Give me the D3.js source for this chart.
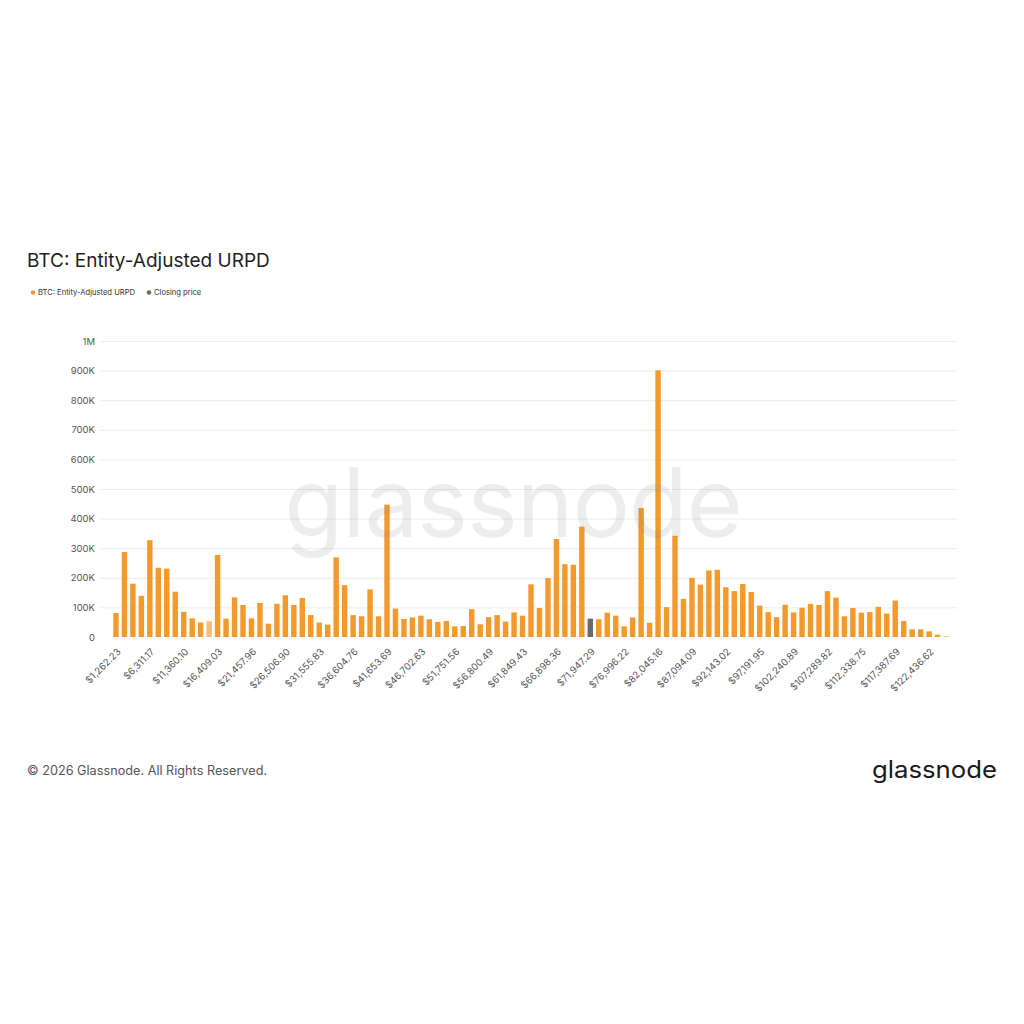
<!DOCTYPE html>
<html>
<head>
<meta charset="utf-8">
<script src="https://cdn.jsdelivr.net/npm/d3@7/dist/d3.min.js"></script>
<style>
  html, body { margin: 0; padding: 0; background: #ffffff; }
  svg { display: block; }
  text { font-family: Inter, "Noto Sans", "DejaVu Sans", sans-serif; }
</style>
</head>
<body>
<svg id="chart" width="1024" height="1024"></svg>
<script>
// ---- Data ----
const categories = [
  1262.23, 2524.47, 3786.70, 5048.93, 6311.17, 7573.40, 8835.63, 10097.86, 11360.10, 12622.33,
  13884.56, 15146.80, 16409.03, 17671.26, 18933.50, 20195.73, 21457.96, 22720.20, 23982.43, 25244.66,
  26506.90, 27769.13, 29031.36, 30293.59, 31555.83, 32818.06, 34080.29, 35342.53, 36604.76, 37866.99,
  39129.23, 40391.46, 41653.69, 42915.93, 44178.16, 45440.39, 46702.63, 47964.86, 49227.09, 50489.32,
  51751.56, 53013.79, 54276.02, 55538.26, 56800.49, 58062.72, 59324.96, 60587.19, 61849.43, 63111.66,
  64373.89, 65636.12, 66898.36, 68160.59, 69422.82, 70685.05, 71947.29, 73209.52, 74471.75, 75733.99,
  76996.22, 78258.45, 79520.69, 80782.92, 82045.16, 83307.38, 84569.62, 85831.85, 87094.09, 88356.32,
  89618.55, 90880.78, 92143.02, 93405.25, 94667.48, 95929.72, 97191.95, 98454.18, 99716.41, 100978.65,
  102240.89, 103503.11, 104765.35, 106027.58, 107289.82, 108552.05, 109814.28, 111076.51, 112338.75, 113600.98,
  114863.21, 116125.45, 117387.69, 118649.91, 119912.14, 121174.38, 122436.62, 123698.84, 124961.08
];
const supplyValues = [
  81000, 287000, 180000, 139000, 327000, 234000, 231000, 153000, 85000, 63000,
  49000, 53000, 277000, 62000, 134000, 108000, 63000, 115000, 45000, 112000,
  141000, 108000, 132000, 74000, 49000, 42000, 269000, 175000, 74000, 70000,
  161000, 70000, 447000, 96000, 61000, 66000, 72000, 60000, 51000, 54000,
  36000, 37000, 94000, 43000, 67000, 74000, 52000, 83000, 72000, 178000,
  98000, 199000, 331000, 246000, 244000, 373000, 62000, 60000, 82000, 72000,
  36000, 66000, 436000, 48000, 901000, 101000, 342000, 129000, 200000, 177000,
  225000, 227000, 168000, 155000, 179000, 152000, 106000, 84000, 67000, 109000,
  83000, 99000, 112000, 108000, 155000, 133000, 70000, 98000, 82000, 84000,
  102000, 79000, 123000, 54000, 26000, 26000, 19000, 8000, 2000
];
const closingPriceBin = 71947.29;
const highlightedBin = 15146.80;
const yTicks = [0, 100000, 200000, 300000, 400000, 500000, 600000, 700000, 800000, 900000, 1000000];
const tickLabels = [
  "$1,262.23", "$6,311.17", "$11,360.10", "$16,409.03", "$21,457.96", "$26,506.90", "$31,555.83",
  "$36,604.76", "$41,653.69", "$46,702.63", "$51,751.56", "$56,800.49", "$61,849.43", "$66,898.36",
  "$71,947.29", "$76,996.22", "$82,045.16", "$87,094.09", "$92,143.02", "$97,191.95", "$102,240.89",
  "$107,289.82", "$112,338.75", "$117,387.69", "$122,436.62"
];
const legendLabels = ["BTC: Entity-Adjusted URPD", "Closing price"];

// ---- Layout ----
const svg = d3.select("#chart");
const W = 1024;
const plot = { left: 109, right: 953, top: 341, bottom: 637, gridLeft: 100, gridRight: 957 };
const colors = { bar: "#f39a2c", close: "#6a6a6a", highlight: "#f5bb78" };

svg.append("rect").attr("width", W).attr("height", 1024).attr("fill", "#ffffff");

const x = d3.scaleBand().domain(categories).range([plot.left, plot.right]).paddingInner(0.36).paddingOuter(0.5);
const y = d3.scaleLinear().domain([0, 1000000]).range([plot.bottom, plot.top]);

// Title
svg.append("text").attr("x", 27).attr("y", 267)
  .attr("font-size", 19).attr("fill", "#1f1f1f").attr("font-weight", 400)
  .text("BTC: Entity-Adjusted URPD");

// Legend
const legend = svg.append("g");
const legendItems = [
  { label: legendLabels[0], color: colors.bar, x: 33 },
  { label: legendLabels[1], color: colors.close, x: 149 }
];
legendItems.forEach(it => {
  legend.append("circle").attr("cx", it.x).attr("cy", 292.5).attr("r", 2.3).attr("fill", it.color);
  legend.append("text").attr("x", it.x + 5).attr("y", 295.2).attr("font-size", 7.6).attr("fill", "#333").text(it.label);
});

// Gridlines
svg.append("g").selectAll("line").data(yTicks.slice(1)).join("line")
  .attr("x1", plot.gridLeft).attr("x2", plot.gridRight)
  .attr("y1", d => y(d) + 0.5).attr("y2", d => y(d) + 0.5)
  .attr("stroke", "#ececec").attr("stroke-width", 1);

// Y axis
const yAxis = d3.axisLeft(y).tickValues(yTicks).tickSize(0).tickPadding(0)
  .tickFormat(d => d === 0 ? "0" : (d >= 1000000 ? (d / 1000000) + "M" : (d / 1000) + "K"));
const yg = svg.append("g").attr("transform", `translate(95,0)`).call(yAxis);
yg.select(".domain").remove();
yg.selectAll("text").attr("font-size", 9.5).attr("fill", "#555").attr("font-family", "Inter, 'Noto Sans', sans-serif");

// Bars
svg.append("g").selectAll("rect").data(categories).join("rect")
  .attr("x", d => x(d))
  .attr("width", x.bandwidth())
  .attr("y", (d, i) => y(supplyValues[i]))
  .attr("height", (d, i) => y(0) - y(supplyValues[i]))
  .attr("fill", d => d === closingPriceBin ? colors.close : (d === highlightedBin ? colors.highlight : colors.bar));

// X axis
const tickCats = categories.filter((d, i) => i % 4 === 0);
const xAxis = d3.axisBottom(x).tickValues(tickCats).tickSize(0)
  .tickFormat((d, i) => tickLabels[i]);
const xg = svg.append("g").attr("transform", `translate(0,${plot.bottom})`).call(xAxis);
xg.select(".domain").remove();
xg.selectAll("text")
  .attr("font-size", 9.6).attr("fill", "#555")
  .attr("font-family", "Inter, 'Noto Sans', sans-serif")
  .attr("text-anchor", "end")
  .attr("dy", "0.35em").attr("y", 0)
  .attr("transform", "translate(3,13) rotate(-45)");

// Watermark
svg.append("text").attr("x", 513).attr("y", 537).attr("text-anchor", "middle")
  .attr("font-size", 96).attr("fill", "#888").attr("fill-opacity", 0.15)
  .attr("font-family", "Inter, 'Noto Sans', sans-serif")
  .attr("letter-spacing", -1)
  .text("glassnode");

// Footer
svg.append("text").attr("x", 27).attr("y", 775).attr("font-size", 12.7).attr("fill", "#555")
  .text("© 2026 Glassnode. All Rights Reserved.");
svg.append("text").attr("x", 997).attr("y", 778).attr("text-anchor", "end")
  .attr("font-size", 24).attr("fill", "#1a1a1a")
  .attr("textLength", 125).attr("lengthAdjust", "spacingAndGlyphs")
  .text("glassnode");
</script>
</body>
</html>
